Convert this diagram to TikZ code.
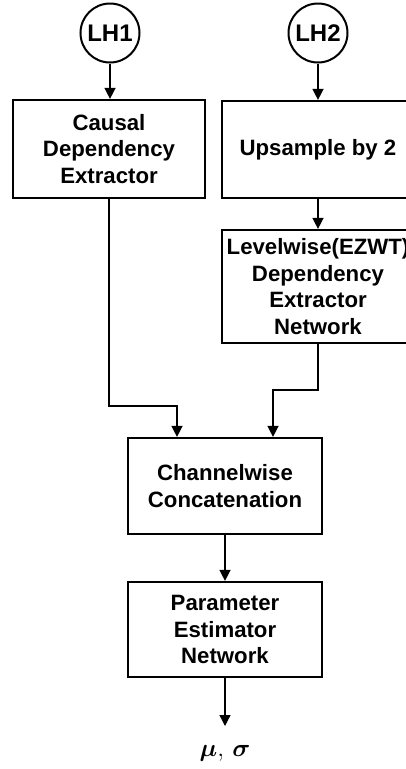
\documentclass[tikz,border=0pt]{standalone}
\usepackage{fontspec}
\usepackage{bm}
\setmainfont{Liberation Sans}
\usetikzlibrary{arrows.meta}

\tikzset{
  block/.style={draw, line width=2.2pt, minimum width=192pt, inner sep=2pt,
    align=center, font=\fontsize{22.2}{26.7}\selectfont\bfseries},
  source/.style={draw, circle, line width=2pt, minimum size=59pt, inner sep=0pt,
    font=\fontsize{24}{28}\selectfont\bfseries},
  conn/.style={line width=1.4pt, -{Triangle[length=11pt,width=11pt]}},
}

\begin{document}
\begin{tikzpicture}[x=1pt, y=-1pt]
  \useasboundingbox (0,0) rectangle (406,769);
  \clip (0,0) rectangle (406,769);

  % inputs
  \node[source] (lh1) at (110,33) {LH1};
  \node[source] (lh2) at (318,33) {LH2};

  % upper processing blocks
  \node[block, minimum height=98pt] (causal) at (109,149) {Causal\\Dependency\\Extractor};
  \node[block, minimum height=97pt] (up) at (318,149.5) {Upsample by 2};
  \node[block, minimum height=113pt] (level) at (318,286.5)
    {Levelwise(EZWT)\\Dependency\\Extractor\\Network};

  % merging and estimation
  \node[block, minimum width=194pt, minimum height=96pt] (concat) at (225,486)
    {Channelwise\\Concatenation};
  \node[block, minimum width=194pt, minimum height=95pt] (param) at (225,629.5)
    {Parameter\\Estimator\\Network};
  \node[inner sep=0pt, font=\fontsize{26}{30}\selectfont] (out) at (225,753)
    {$\bm{\mu},\,\bm{\sigma}$};

  % routing points
  \coordinate (j1) at (177,406);
  \coordinate (j2) at (273,390);
  \coordinate (tip) at (225,726);

  % connectors
  \draw[conn] (lh1) -- (lh1 |- causal.north);
  \draw[conn] (lh2) -- (up.north);
  \draw[conn] (up.south) -- (level.north);
  \draw[conn] (causal.south) |- (j1) -- (j1 |- concat.north);
  \draw[conn] (level.south) |- (j2) -- (j2 |- concat.north);
  \draw[conn] (concat.south) -- (param.north);
  \draw[conn] (param.south) -- (tip);
\end{tikzpicture}
\end{document}
